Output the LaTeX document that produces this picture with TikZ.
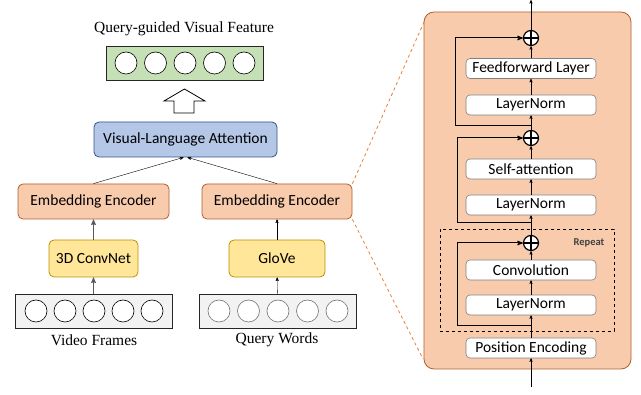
\documentclass[tikz,border=0pt]{standalone}
\usepackage{fontspec}
\setmainfont{Liberation Serif}
\newfontfamily\calibri{Carlito}
\usepackage{xcolor}
\usetikzlibrary{arrows,positioning}
\definecolor{encfill}{HTML}{F8CBAD}
\definecolor{encline}{HTML}{B0602E}
\definecolor{zoomline}{HTML}{ED7D31}
\definecolor{attfill}{HTML}{B4C7E7}
\definecolor{attline}{HTML}{2F528F}
\definecolor{extfill}{HTML}{FFE699}
\definecolor{extline}{HTML}{BF9000}
\definecolor{featfill}{HTML}{C5E0B4}
\definecolor{inputfill}{HTML}{F2F2F2}

\begin{document}
\begin{tikzpicture}[x=1pt,y=-1pt,>=stealth',
  sansfont/.style={font=\calibri\fontsize{15.5}{18}\selectfont},
  encbox/.style={rectangle,rounded corners=5pt,draw=encline,fill=encfill,line width=0.8pt,sansfont,inner sep=0pt,minimum height=35pt},
  extbox/.style={rectangle,rounded corners=5pt,draw=extline,fill=extfill,line width=0.8pt,sansfont,inner sep=0pt,minimum height=37pt},
  layerbox/.style={rectangle,rounded corners=4pt,draw=black!50,fill=white,line width=0.6pt,sansfont,inner sep=0pt,minimum width=130pt,minimum height=20pt},
  vecbox/.style={rectangle,draw=black!85,line width=0.9pt,minimum width=157pt,minimum height=34pt,inner sep=0pt},
  unit/.style={circle,draw,fill=white,line width=0.6pt,minimum size=22pt,inner sep=0pt},
  adder/.style={circle,draw,fill=white,line width=1.2pt,minimum size=15pt,inner sep=0pt,
    path picture={\draw[line width=1.2pt] (path picture bounding box.north) -- (path picture bounding box.south)
      (path picture bounding box.west) -- (path picture bounding box.east);}},
  serifcap/.style={font=\fontsize{15.5}{18}\selectfont,inner sep=0pt}]
  \useasboundingbox (0,0) rectangle (641,395);

  % left branch
  \node[serifcap] (title) at (184,29) {Query-guided Visual Feature};
  \node[vecbox,fill=featfill] (feat) at (184.5,63) {};
  \foreach \i in {0,...,4}
    \node[unit] (feat\i) at (126+29.5*\i,63) {};
  \draw[line width=0.8pt] (174,113) -- (174,101) -- (164,101) -- (184.5,89) -- (205,101) -- (194,101) -- (194,113) -- cycle;
  \node[rectangle,rounded corners=5pt,draw=attline,fill=attfill,line width=0.8pt,sansfont,minimum width=183pt,minimum height=35pt,inner sep=0pt] (vla) at (185.5,139.5) {Visual-Language Attention};

  \node[encbox,minimum width=151pt] (videnc) at (93.5,201.5) {Embedding Encoder};
  \node[encbox,minimum width=150pt] (qryenc) at (277,201.5) {Embedding Encoder};
  \node[extbox,minimum width=89pt] (c3d) at (93.5,258.5) {3D ConvNet};
  \node[extbox,minimum width=96pt] (glove) at (277,258.5) {GloVe};

  \node[vecbox,fill=inputfill] (frames) at (93.5,311) {};
  \foreach \i in {0,...,4}
    \node[unit] (frame\i) at (36+29*\i,311) {};
  \node[vecbox,fill=inputfill] (words) at (277.5,311) {};
  \foreach \i in {0,...,4}
    \node[unit,draw=black!55] (word\i) at (219+29.5*\i,311) {};
  \node[serifcap] (framelbl) at (94,340) {Video Frames};
  \node[serifcap] (wordlbl) at (277,340) {Query Words};

  \draw[->,black!65,line width=1pt] (frames) -- (c3d);
  \draw[->,black!65,line width=1pt] (c3d) -- (videnc);
  \draw[->] (words) -- (glove);
  \draw[->] (glove) -- (qryenc);
  \draw[->] (videnc.north) -- ([xshift=-2pt]vla.south);
  \draw[->] (qryenc.north) -- ([xshift=2pt]vla.south);

  % encoder block
  \node[rectangle,rounded corners=10pt,draw=encline,fill=encfill,line width=0.8pt,minimum width=207pt,minimum height=357pt] (block) at (527.5,190.5) {};
  \coordinate (zoomtop) at (424,22);
  \coordinate (zoombot) at (423,359);
  \draw[zoomline,dashed,line width=0.8pt] (qryenc.north east) -- (zoomtop);
  \draw[zoomline,dashed,line width=0.8pt] (qryenc.south east) -- (zoombot);

  \node[rectangle,draw,dashed,line width=0.8pt,minimum width=174pt,minimum height=102pt] (repeatbox) at (527,280) {};
  \node[font=\calibri\bfseries\fontsize{10.5}{12}\selectfont,text=black!75,inner sep=0pt] (repeatlbl) at (589,243) {Repeat};

  \node[layerbox] (ff) at (531,68.5) {Feedforward Layer};
  \node[layerbox] (lnb) at (531,105) {LayerNorm};
  \node[layerbox] (sa) at (531,169) {Self-attention};
  \node[layerbox] (lnm) at (531,205) {LayerNorm};
  \node[layerbox] (conv) at (531,270) {Convolution};
  \node[layerbox] (lnt) at (531,305) {LayerNorm};
  \node[layerbox] (pe) at (531,348) {Position Encoding};
  \node[adder] (addb) at (531,38) {};
  \node[adder] (addm) at (531,138) {};
  \node[adder] (addt) at (531,243) {};
  \coordinate (outtop) at (531,0);
  \coordinate (inbot) at (531,387);
  \coordinate (skipb) at (531,126);
  \coordinate (skipm) at (531,223);
  \coordinate (skipt) at (531,326);

  \draw[->] (inbot) -- (pe);
  \draw[->] (pe) -- (lnt);
  \draw[->] (lnt) -- (conv);
  \draw[->] (conv) -- (addt);
  \draw[->] (addt) -- (lnm);
  \draw[->] (lnm) -- (sa);
  \draw[->] (sa) -- (addm);
  \draw[->] (addm) -- (lnb);
  \draw[->] (lnb) -- (ff);
  \draw[->] (ff) -- (addb);
  \draw[->] (addb) -- (outtop);
  \draw[->,line width=1pt] (skipt) -- ++(-74,0) |- (addt);
  \draw[->,line width=1pt] (skipm) -- ++(-74,0) |- (addm);
  \draw[->,line width=1pt] (skipb) -- ++(-76,0) |- (addb);
\end{tikzpicture}
\end{document}
